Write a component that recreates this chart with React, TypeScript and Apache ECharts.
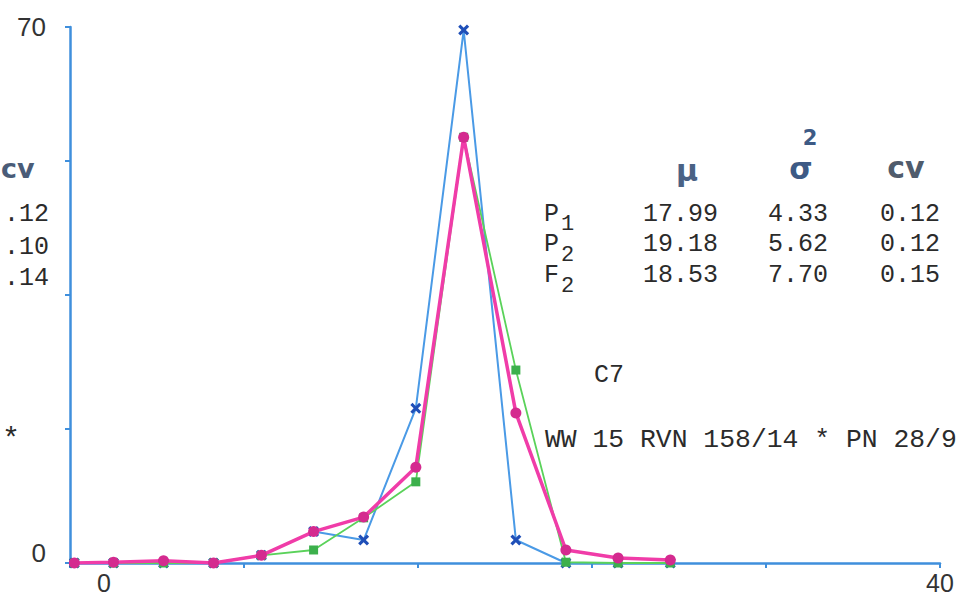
import React, { useEffect, useRef } from "react";
import * as echarts from "echarts";

// class positions along the x axis
const xValues = [0.2, 2.0, 4.3, 6.6, 8.8, 11.2, 13.5, 15.9, 18.1, 20.5, 22.8, 25.2, 27.6];
// frequencies (%)
const p1Values = [0, 0, 0, 0, 1.0, 4.1, 3.0, 20.2, 69.6, 3.0, 0, 0, 0];
const p2Values = [0, 0, 0, 0, 1.0, 1.7, 5.9, 10.6, 55.6, 25.2, 0.1, 0, 0];
const f2Values = [0, 0.1, 0.3, 0, 1.0, 4.1, 6.0, 12.5, 55.6, 19.6, 1.7, 0.65, 0.4];

const xTickLabels = ["0", "40"];
const yTickLabels = ["0", "70"];

const statRows = ["P", "P", "F"];
const statSubs = ["1", "2", "2"];
const statMu = ["17.99", "19.18", "18.53"];
const statVar = ["4.33", "5.62", "7.70"];
const statCv = ["0.12", "0.12", "0.15"];
// visible remains of a neighbouring table cut by the left edge
const leftCv = [".12", ".10", ".14"];

const AXIS = "#3f8fdc";
const MONO = "'Liberation Mono', 'DejaVu Sans Mono', monospace";
const SANS = "'Liberation Sans', Arial, sans-serif";
const HEAD = "'DejaVu Sans', sans-serif";

const xMark =
  "path://M2,0 L5,3 L8,0 L10,2 L7,5 L10,8 L8,10 L5,7 L2,10 L0,8 L3,5 L0,2 Z";

function pairs(vals: number[]) {
  return xValues.map((x, i) => [x, vals[i]]);
}

function txt(text: string, x: number, y: number, size: number, extra: any = {}) {
  return {
    type: "text",
    x,
    y,
    style: {
      text,
      fontSize: size,
      fontFamily: MONO,
      fill: "#2b2b2b",
      textVerticalAlign: "middle",
      textAlign: "left",
      ...extra,
    },
  };
}

export default function App() {
  const ref = useRef<HTMLDivElement>(null);
  useEffect(() => {
    document.body.style.margin = "0";
    const chart = echarts.init(ref.current!, null, { renderer: "svg" });
    const rowY = [214, 244, 275];
    const subY = [224, 255, 286];
    const leftY = [214, 247, 278];
    const graphics: any[] = [];
    statRows.forEach((r, i) => {
      graphics.push(txt(r, 544, rowY[i], 25));
      graphics.push(txt(statSubs[i], 561, subY[i], 22));
      graphics.push(txt(statMu[i], 643, rowY[i], 25));
      graphics.push(txt(statVar[i], 768, rowY[i], 25));
      graphics.push(txt(statCv[i], 880, rowY[i], 25));
    });
    leftCv.forEach((v, i) => {
      graphics.push(txt(v, 49, leftY[i], 25, { textAlign: "right" }));
    });
    graphics.push(
      txt("μ", 687, 170, 30, { fontFamily: HEAD, fontWeight: "bold", fill: "#4a6285", textAlign: "center" })
    );
    graphics.push(
      txt("σ", 801, 168, 30, { fontFamily: HEAD, fontWeight: "bold", fill: "#3d5a85", textAlign: "center" })
    );
    graphics.push(
      txt("2", 810, 138, 21, { fontFamily: HEAD, fontWeight: "bold", fill: "#3d5a85", textAlign: "center" })
    );
    graphics.push(
      txt("cv", 906, 167, 30, { fontFamily: HEAD, fontWeight: "bold", fill: "#505c6c", textAlign: "center" })
    );
    graphics.push(
      txt("cv", 1, 168, 27, { fontFamily: HEAD, fontWeight: "bold", fill: "#4a5c78", textAlign: "left" })
    );
    graphics.push(txt("C7", 594, 375, 25));
    graphics.push(txt("WW 15 RVN 158/14 * PN 28/9", 545, 440, 26.4));
    graphics.push(txt("*", 2, 440, 30));

    chart.setOption({
      animation: false,
      grid: { left: 70, right: 22, top: 27, bottom: 35 },
      xAxis: {
        type: "value",
        min: 0,
        max: 40,
        interval: 8,
        splitLine: { show: false },
        axisLine: { show: true, lineStyle: { color: AXIS, width: 2.5 } },
        axisTick: { show: true, length: 5, lineStyle: { color: AXIS, width: 2 } },
        axisLabel: {
          margin: 8,
          color: "#333",
          fontSize: 25,
          lineHeight: 24,
          fontFamily: SANS,
          formatter: (v: number) =>
            v === 0 ? "{z|" + xTickLabels[0] + "}" : v === 40 ? xTickLabels[1] : "",
          rich: {
            z: { padding: [0, 0, 0, 68], fontSize: 25, lineHeight: 24, fontFamily: SANS, color: "#333" },
          },
        },
      },
      yAxis: {
        type: "value",
        min: 0,
        max: 70,
        interval: 17.5,
        splitLine: { show: false },
        axisLine: { show: true, lineStyle: { color: AXIS, width: 2.5 } },
        axisTick: { show: true, length: 5, lineStyle: { color: AXIS, width: 2 } },
        axisLabel: {
          margin: 24,
          color: "#333",
          fontSize: 26,
          fontFamily: SANS,
          formatter: (v: number) =>
            v === 0 ? "{z|" + yTickLabels[0] + "}" : v === 70 ? yTickLabels[1] : "",
          rich: { z: { padding: [0, 0, 20, 0], fontSize: 26, fontFamily: SANS, color: "#333" } },
        },
      },
      series: [
        {
          name: "P1",
          type: "line",
          data: pairs(p1Values),
          symbol: xMark,
          symbolSize: 11,
          lineStyle: { color: "#4a9ae6", width: 2 },
          itemStyle: { color: "#1f4fb8" },
          z: 2,
        },
        {
          name: "P2",
          type: "line",
          data: pairs(p2Values),
          symbol: "rect",
          symbolSize: 9,
          lineStyle: { color: "#5ad25a", width: 1.8 },
          itemStyle: { color: "#3cb04c" },
          z: 3,
        },
        {
          name: "F2",
          type: "line",
          data: pairs(f2Values),
          symbol: "circle",
          symbolSize: 11,
          lineStyle: { color: "#f03ca8", width: 3.5 },
          itemStyle: { color: "#d42a8f" },
          z: 4,
        },
      ],
      graphic: graphics,
    });
    return () => chart.dispose();
  }, []);
  return <div ref={ref} style={{ width: 962, height: 598 }} />;
}
